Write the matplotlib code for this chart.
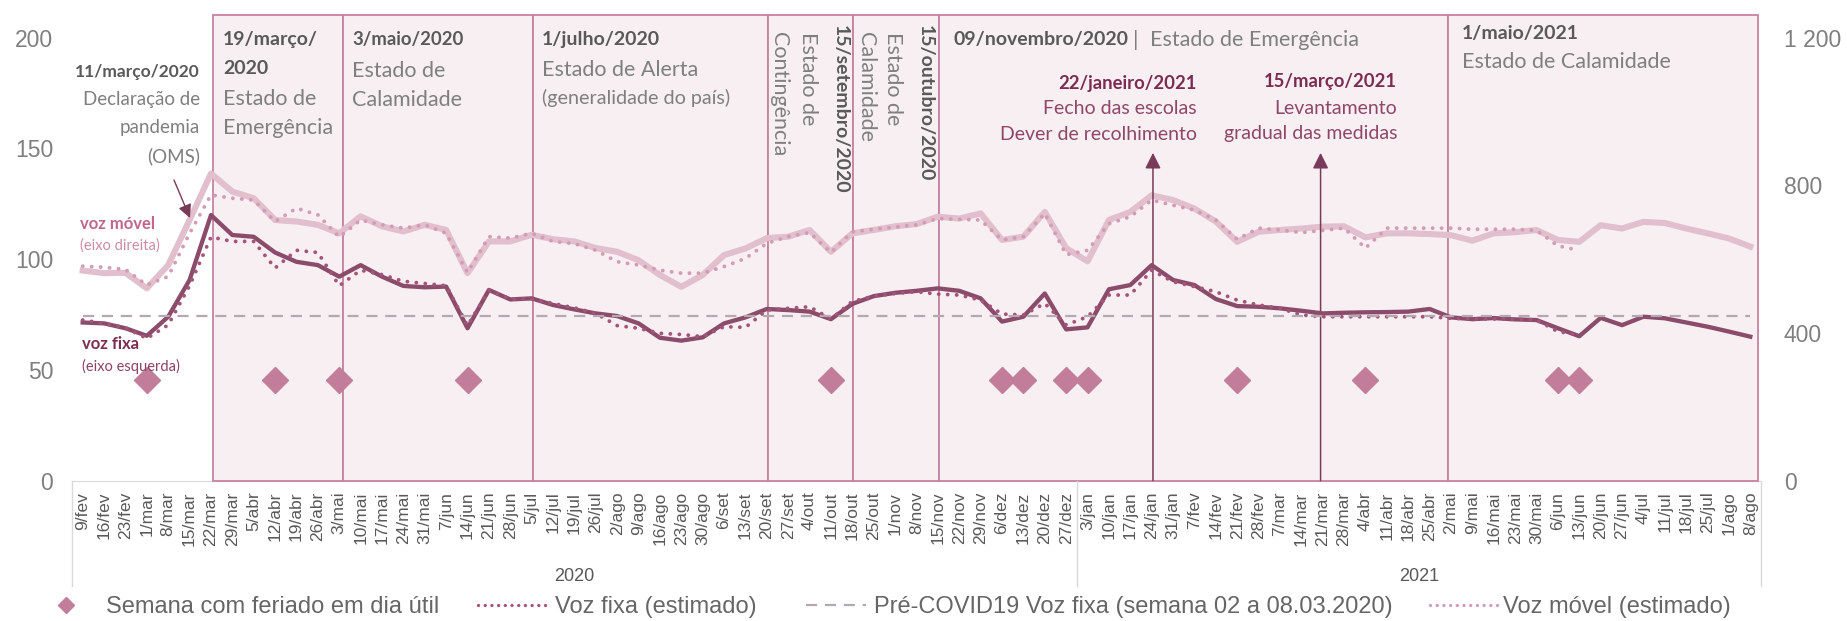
import matplotlib
matplotlib.use('Agg')
import matplotlib.pyplot as plt
import numpy as np
from matplotlib.transforms import blended_transform_factory
from matplotlib.patches import Rectangle
from matplotlib.lines import Line2D

W, H = 1847, 621

semanas_2020 = ['9/fev', '16/fev', '23/fev', '1/mar', '8/mar', '15/mar', '22/mar', '29/mar',
                '5/abr', '12/abr', '19/abr', '26/abr', '3/mai', '10/mai', '17/mai', '24/mai',
                '31/mai', '7/jun', '14/jun', '21/jun', '28/jun', '5/jul', '12/jul', '19/jul',
                '26/jul', '2/ago', '9/ago', '16/ago', '23/ago', '30/ago', '6/set', '13/set',
                '20/set', '27/set', '4/out', '11/out', '18/out', '25/out', '1/nov', '8/nov',
                '15/nov', '22/nov', '29/nov', '6/dez', '13/dez', '20/dez', '27/dez']
semanas_2021 = ['3/jan', '10/jan', '17/jan', '24/jan', '31/jan', '7/fev', '14/fev', '21/fev',
                '28/fev', '7/mar', '14/mar', '21/mar', '28/mar', '4/abr', '11/abr', '18/abr',
                '25/abr', '2/mai', '9/mai', '16/mai', '23/mai', '30/mai', '6/jun', '13/jun',
                '20/jun', '27/jun', '4/jul', '11/jul', '18/jul', '25/jul', '1/ago', '8/ago']
semanas = semanas_2020 + semanas_2021

# voz fixa (eixo esquerdo)
voz_fixa = [71.4, 71.0, 68.8, 65.4, 74.0, 90.6, 119.9, 110.9, 110.1, 103.0,
            98.8, 97.3, 92.1, 97.3, 92.1, 87.9, 87.3, 87.6, 68.8, 86.1,
            81.8, 82.3, 79.3, 77.3, 75.5, 74.3, 71.0, 64.5, 63.2, 64.7,
            71.0, 73.7, 77.5, 77.0, 76.3, 72.9, 79.8, 83.3, 84.8, 85.7,
            86.8, 85.7, 82.3, 71.8, 74.0, 84.5, 68.3, 69.2, 86.4, 88.3,
            97.3, 90.6, 88.3, 82.0, 78.8, 78.5, 77.8, 76.7, 75.5, 75.8,
            76.0, 76.1, 76.3, 77.5, 73.7, 72.9, 73.4, 72.8, 72.5, 68.8,
            65.2, 73.5, 70.2, 74.0, 73.3, 71.4, 69.5, 67.3, 65.0]
voz_fixa_est = [72.5, 71, 69, 64.2, 70.3, 88, 110, 108, 108, 96,
                104, 103, 88, 95, 93, 90, 89, 88, 70, 86,
                82, 82, 80, 78, 75.5, 70, 68.8, 66.5, 66, 65,
                69.5, 69.2, 77, 77.8, 78.5, 73, 80.9, 83.3, 84.5, 85.3,
                84.2, 83.8, 81.5, 75.2, 74.8, 80, 70.3, 74, 83.8, 83.8,
                95, 89.8, 87.6, 85.3, 81.5, 79.3, 77.8, 74.8, 74, 74,
                74, 74, 74, 74, 73.3, 73, 73, 73, 72.5, 67.3, 65.8]

# voz movel (eixo direito)
voz_movel = [569, 562, 563, 521, 584, 706, 832, 783, 765, 706,
             702, 693, 670, 716, 689, 675, 693, 679, 562, 648,
             648, 666, 654, 648, 630, 620, 597, 557, 525, 557,
             611, 629, 657, 661, 679, 620, 670, 679, 689, 695,
             715, 710, 724, 652, 661, 728, 630, 594, 706, 728,
             773, 760, 737, 702, 647, 674, 679, 683, 688, 689,
             659, 670, 670, 668, 665, 650, 670, 673, 679, 652,
             647, 692, 683, 701, 698, 683, 670, 656, 634]
voz_movel_est = [581, 578, 572, 530, 553, 670, 774, 765, 760, 702,
                 738, 720, 660, 706, 693, 684, 693, 670, 564, 661,
                 657, 670, 648, 642, 624, 593, 584, 570, 562, 562,
                 580, 602, 643, 661, 672, 618, 674, 681, 687, 693,
                 710, 708, 706, 652, 661, 724, 612, 624, 696, 715,
                 760, 746, 733, 706, 654, 684, 679, 672, 678, 684,
                 630, 684, 684, 684, 684, 681, 681, 681, 678, 636, 624]

pre_covid_fixa = 74.3
feriados = [3, 9, 12, 18, 35, 43, 44, 46, 47, 54, 60, 69, 70]
nivel_feriado = 45.5

# limites das caixas dos periodos (em semanas)
periodos = [6.08, 12.17, 21.04, 32.05, 36.03, 40.05, 63.86, 78.36]
setas_medidas = [50.06, 57.9]

c_fixa = '#8b4b6a'
c_fixa_est = '#a4547a'
c_movel = '#e2bfcd'
c_movel_est = '#d39cb4'
c_diam = '#c17d9a'
c_dash = '#b5a9b1'
c_box = '#f7eff2'
c_boxedge = '#c6839f'
c_arrow = '#7a3a59'
c_dark = '#595959'
c_grey = '#7f7f7f'
c_red = '#7b2c52'
c_red2 = '#8e4669'

ANN = ['Lato', 'DejaVu Sans']
plt.rcParams['font.family'] = ['Liberation Sans', 'DejaVu Sans']

fig = plt.figure(figsize=(W / 100, H / 100), dpi=100)
ax = fig.add_axes([72 / W, 1 - 480.6 / H, (1761 - 72) / W, (480.6 - 37.7) / H])
ax2 = ax.twinx()
ax.set_zorder(ax2.get_zorder() + 1)
ax.patch.set_visible(False)

x = np.arange(len(semanas))
ax.set_xlim(-0.5, len(semanas) - 0.5)
ax.set_ylim(0, 200)
ax2.set_ylim(0, 1200)

# caixas dos periodos
tr2 = blended_transform_factory(ax2.transData, ax2.transAxes)
for a, b in zip(periodos[:-1], periodos[1:]):
    ax2.add_patch(Rectangle((a, 0), b - a, 1.051, transform=tr2, clip_on=False,
                            facecolor=c_box, edgecolor=c_boxedge, lw=1.3, zorder=1))

ax2.plot(x, voz_movel, color=c_movel, lw=4.4, zorder=4)
ax2.plot(x[:len(voz_movel_est)], voz_movel_est, color=c_movel_est, lw=2.8,
         ls=(0, (0.01, 2.3)), dash_capstyle='round', zorder=5)

ax.plot(x, voz_fixa, color=c_fixa, lw=3.1, zorder=4)
ax.plot(x[:len(voz_fixa_est)], voz_fixa_est, color=c_fixa_est, lw=2.8,
        ls=(0, (0.01, 2.3)), dash_capstyle='round', zorder=5)
ax.plot(x, [pre_covid_fixa] * len(x), color=c_dash, lw=1.6, ls=(0, (5, 3.5)), zorder=6)
ax.plot(feriados, [nivel_feriado] * len(feriados), ls='none', marker='D', ms=13,
        color=c_diam, zorder=7)

for xs in setas_medidas:
    ax.annotate('', xy=(xs, 148), xytext=(xs, 0),
                arrowprops=dict(arrowstyle='-|>,head_length=0.5,head_width=0.25',
                                color=c_arrow, lw=1.1, mutation_scale=19,
                                shrinkA=0, shrinkB=0), zorder=3)

# eixos
for a in (ax, ax2):
    for s in a.spines.values():
        s.set_visible(False)
ax2.spines['bottom'].set_visible(True)
ax2.spines['bottom'].set_color('#d9d9d9')
ax2.spines['bottom'].set_zorder(0.5)

ax.set_yticks([0, 50, 100, 150, 200])
ax2.set_yticks([0, 400, 800, 1200])
ax2.set_yticklabels(['0', '400', '800', '1 200'])
ax.tick_params(axis='y', length=0, pad=13.5, labelsize=16.5, labelcolor=c_grey)
ax2.tick_params(axis='y', length=0, pad=16.5, labelsize=16.5, labelcolor=c_grey)
ax.set_xticks(x)
ax.set_xticklabels(semanas, rotation=90)
ax.tick_params(axis='x', length=0, pad=8, labelsize=12.5, labelcolor=c_dark)

trb = blended_transform_factory(ax.transData, ax.transAxes)
for xs in [-0.5, len(semanas_2020) - 0.5, len(semanas) - 0.5]:
    ax.plot([xs, xs], [0, -0.237], transform=trb, clip_on=False, color='#d9d9d9', lw=1)
ax.text((len(semanas_2020) - 1) / 2, -0.216, '2020', transform=trb, ha='center',
        va='center', fontsize=13, color=c_dark)
ax.text(len(semanas_2020) + (len(semanas_2021) - 1) / 2, -0.216, '2021', transform=trb,
        ha='center', va='center', fontsize=13, color=c_dark)


def txt(px, py, s, size, color, weight='normal', ha='left', rot=0, va='center'):
    fig.text(px / W, 1 - py / H, s, fontsize=size, color=color, fontweight=weight,
             ha=ha, va=va, rotation=rot, family=ANN)


# anotacoes
txt(200, 72, '11/março/2020', 12.5, c_dark, 'bold', 'right')
txt(200, 100, 'Declaração de', 13.5, c_grey, ha='right')
txt(200, 128, 'pandemia', 13.5, c_grey, ha='right')
txt(200, 156, '(OMS)', 13.5, c_grey, ha='right')
ax.annotate('', xy=(190, H - 218), xytext=(174, H - 180), xycoords='figure pixels',
            arrowprops=dict(arrowstyle='-|>,head_length=0.5,head_width=0.25', color=c_arrow,
                            lw=1, mutation_scale=16, shrinkA=0, shrinkB=0))

txt(223, 40, '19/março/', 14, c_dark, 'bold')
txt(223, 68, '2020', 14, c_dark, 'bold')
txt(223, 99, 'Estado de', 15.5, c_grey)
txt(223, 128, 'Emergência', 15.5, c_grey)

txt(352, 40, '3/maio/2020', 13.3, c_dark, 'bold')
txt(352, 71, 'Estado de', 15.5, c_grey)
txt(352, 100, 'Calamidade', 15.5, c_grey)

txt(542, 40, '1/julho/2020', 14, c_dark, 'bold')
txt(542, 70, 'Estado de Alerta', 15.5, c_grey)
txt(542, 98, '(generalidade do país)', 14.2, c_grey)

txt(779, 32, 'Contingência', 15.5, c_grey, ha='center', rot=270, va='top')
txt(808, 32, 'Estado de', 15.5, c_grey, ha='center', rot=270, va='top')
txt(840, 25, '15/setembro/2020', 14, c_dark, 'bold', ha='center', rot=270, va='top')
txt(866, 32, 'Calamidade', 15.5, c_grey, ha='center', rot=270, va='top')
txt(893, 32, 'Estado de', 15.5, c_grey, ha='center', rot=270, va='top')
txt(925, 25, '15/outubro/2020', 14, c_dark, 'bold', ha='center', rot=270, va='top')

txt(954, 40, '09/novembro/2020', 14, c_dark, 'bold')
txt(1136, 40, '|', 15.5, c_grey, ha='center')
txt(1150, 40, 'Estado de Emergência', 15.5, c_grey)

txt(1197, 83, '22/janeiro/2021', 13.3, c_red, 'bold', 'right')
txt(1197, 109, 'Fecho das escolas', 14, c_red2, ha='right')
txt(1197, 135, 'Dever de recolhimento', 14, c_red2, ha='right')

txt(1397, 82, '15/março/2021', 13.3, c_red, 'bold', 'right')
txt(1397, 108, 'Levantamento', 14, c_red2, ha='right')
txt(1397, 133, 'gradual das medidas', 14, c_red2, ha='right')

txt(1462, 33, '1/maio/2021', 14, c_dark, 'bold')
txt(1462, 62, 'Estado de Calamidade', 15.5, c_grey)

txt(80, 224, 'voz móvel', 12, '#c0668e', 'bold')
txt(80, 246, '(eixo direita)', 10.5, '#cc8aa7')
txt(82, 344, 'voz fixa', 12, '#7a2d51', 'bold')
txt(82, 366, '(eixo esquerda)', 10.5, '#8c4166')

# legenda (posicao x do inicio da chave, comprimento, espaco ate ao texto)
itens = [
    (Line2D([], [], ls='none', marker='D', ms=8, color=c_diam),
     'Semana com feriado em dia útil', 52, 1.2, 1.1),
    (Line2D([], [], color=c_fixa_est, lw=2.4, ls=(0, (0.01, 2.0)), dash_capstyle='round'),
     'Voz fixa (estimado)', 478, 2.95, 0.3),
    (Line2D([], [], color=c_dash, lw=1.6, ls=(0, (5, 3.5))),
     'Pré-COVID19 Voz fixa (semana 02 a 08.03.2020)', 806, 2.55, 0.35),
    (Line2D([], [], color=c_movel_est, lw=2.4, ls=(0, (0.01, 2.0)), dash_capstyle='round'),
     'Voz móvel (estimado)', 1430, 3.0, 0.1),
]
for h, lab, x0, hl, hp in itens:
    fig.legend([h], [lab], loc='center left', bbox_to_anchor=(x0 / W, 1 - 607 / H),
               frameon=False, borderpad=0, borderaxespad=0, handlelength=hl,
               handletextpad=hp, fontsize=17, labelcolor='#666666')

fig.savefig('out.png', dpi=100)
